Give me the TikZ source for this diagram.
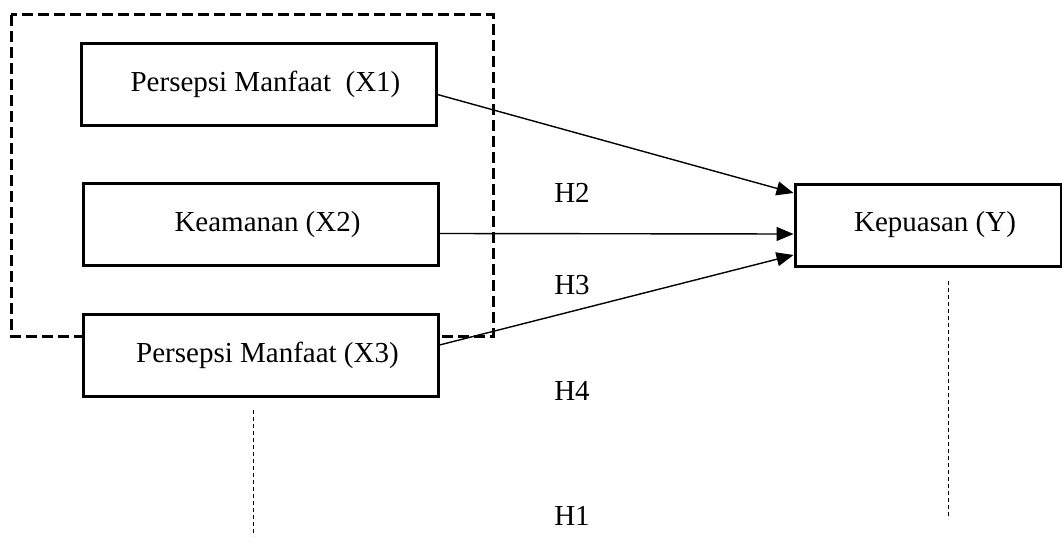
\documentclass[tikz,border=0pt]{standalone}
\usepackage{fontspec}
\setmainfont{Liberation Serif}
\usetikzlibrary{arrows.meta}
\tikzset{
  varbox/.style={draw, line width=3pt, fill=white, inner sep=0pt,
    minimum height=82pt, font=\fontsize{29}{33}\selectfont,
    execute at begin node={\hspace*{14pt}}},
  conn/.style={line width=1.4pt, -{Triangle[length=17pt,width=14pt]}},
  hlabel/.style={font=\fontsize{29}{33}\selectfont, inner sep=0pt},
  groupbox/.style={line width=3pt, dash pattern=on 11pt off 5pt},
  guide/.style={line width=1pt, dash pattern=on 4pt off 3pt}
}
\begin{document}
\begin{tikzpicture}[x=1pt,y=-1pt]
\useasboundingbox (0,0) rectangle (1062,559);
\draw[groupbox] (11,15) rectangle (493,336);
\node[varbox, minimum width=355pt] (x1) at (258.5,84.5) {Persepsi Manfaat\ \ (X1)};
\node[varbox, minimum width=355pt] (x2) at (260.5,224.5) {Keamanan (X2)};
\node[varbox, minimum width=355pt] (x3) at (260.5,355) {Persepsi Manfaat (X3)};
\node[varbox, minimum width=266pt] (y) at (928,225) {Kepuasan (Y)};
\draw[conn] ([yshift=-10pt]x1.east) -- ([yshift=32pt]y.west);
\draw[conn] ([yshift=-9pt]x2.east) -- ([yshift=-9pt]y.west);
\draw[conn] ([yshift=10pt]x3.east) -- ([yshift=-30pt]y.west);
\node[hlabel] (h2) at (572,193) {H2};
\node[hlabel] (h3) at (572,285) {H3};
\node[hlabel] (h4) at (572,391) {H4};
\node[hlabel] (h1) at (572,516) {H1};
\coordinate (la) at (253,410);
\coordinate (lb) at (253,536);
\coordinate (ra) at (948,281);
\coordinate (rb) at (948,519);
\draw[guide] (la) -- (lb);
\draw[guide] (ra) -- (rb);
\end{tikzpicture}
\end{document}
